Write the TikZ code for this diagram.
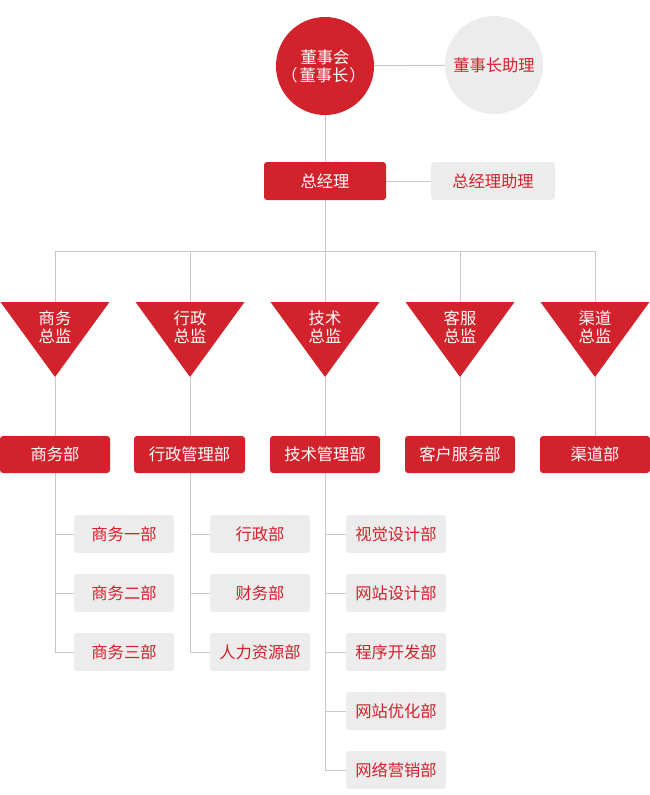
\documentclass[tikz,border=0pt]{standalone}
\usepackage{fontspec}
\setmainfont{Noto Sans CJK SC}
\usetikzlibrary{backgrounds}
\definecolor{cred}{RGB}{210,34,44}
\definecolor{cgray}{RGB}{236,236,236}
\definecolor{cline}{RGB}{200,200,200}
\begin{document}
\begin{tikzpicture}[x=1pt,y=-1pt,
  conn/.style={draw=cline,line width=1pt},
  redbox/.style={fill=cred,text=white,rounded corners=3pt,minimum width=110pt,minimum height=37pt,inner sep=0pt,font=\fontsize{16.3}{18}\selectfont},
  graybox/.style={fill=cgray,text=cred,rounded corners=3pt,minimum width=100pt,minimum height=38pt,inner sep=0pt,font=\fontsize{16.3}{18}\selectfont},
  tritext/.style={text=white,align=center,inner sep=0pt,font=\fontsize{16.3}{18}\selectfont},
  tri/.style={fill=cred}]
\useasboundingbox (0,0) rectangle (650,795);
% top
\node[circle,fill=cred,text=white,minimum size=98pt,inner sep=0pt,align=center,font=\fontsize{16.3}{18}\selectfont] (ceo) at (325,66) {董事会\\\hspace*{-3pt}（\hspace{2pt}董事长\hspace{1pt}）};
\node[circle,fill=cgray,text=cred,minimum size=98pt,inner sep=0pt,font=\fontsize{16.3}{18}\selectfont] (ceoA) at (494,65) {董事长助理};
\node[redbox,minimum width=122pt,minimum height=38pt] (gm) at (325,181) {总经理};
\node[graybox,minimum width=124pt] (gmA) at (493,181) {总经理助理};
\coordinate (bus) at (325,251);
\coordinate (busL) at (55,251);
\coordinate (busR) at (595,251);
% triangles
\foreach \i/\x/\a/\b in {1/55/商务/总监,2/190/行政/总监,3/325/技术/总监,4/460/客服/总监,5/595/渠道/总监}{
  \coordinate (t\i top) at (\x,302);
  \coordinate (t\i apex) at (\x,377);
  \fill[tri] (\x-54.5,302) -- (\x+54.5,302) -- (\x,377) -- cycle;
  \node[tritext] (t\i) at (\x,327.5) {\a\\\b};
}
% departments
\node[redbox] (d1) at (55,454.5) {商务部};
\node[redbox,minimum width=111pt] (d2) at (189.5,454.5) {行政管理部};
\node[redbox] (d3) at (325,454.5) {技术管理部};
\node[redbox] (d4) at (460,454.5) {客户服务部};
\node[redbox] (d5) at (595,454.5) {渠道部};
% sub departments
\node[graybox] (s11) at (124,534) {商务一部};
\node[graybox] (s12) at (124,593) {商务二部};
\node[graybox] (s13) at (124,652) {商务三部};
\node[graybox] (s21) at (260,534) {行政部};
\node[graybox] (s22) at (260,593) {财务部};
\node[graybox] (s23) at (260,652) {人力资源部};
\node[graybox] (s31) at (396,534) {视觉设计部};
\node[graybox] (s32) at (396,593) {网站设计部};
\node[graybox] (s33) at (396,652) {程序开发部};
\node[graybox] (s34) at (396,711) {网站优化部};
\node[graybox] (s35) at (396,770) {网络营销部};
\coordinate (c1) at (55,652);
\coordinate (c2) at (190,652);
\coordinate (c3) at (325,770);
\begin{scope}[on background layer]
\draw[conn] (ceo) -- (ceoA);
\draw[conn] (ceo) -- (gm);
\draw[conn] (gm) -- (gmA);
\draw[conn] (gm.south) -- (bus);
\draw[conn] (busL) -- (busR);
\foreach \i in {1,2,3,4,5}{
  \draw[conn] (t\i top) -- (t\i top |- busL);
  \draw[conn] (t\i apex) -- (d\i.north -| t\i apex);
}
\draw[conn] (d1.south) -- (c1);
\draw[conn] (d2.south -| c2) -- (c2);
\draw[conn] (d3.south) -- (c3);
\foreach \s in {11,12,13}{\draw[conn] (s\s.west) -- (s\s.west -| c1);}
\foreach \s in {21,22,23}{\draw[conn] (s\s.west) -- (s\s.west -| c2);}
\foreach \s in {31,32,33,34,35}{\draw[conn] (s\s.west) -- (s\s.west -| c3);}
\end{scope}
\end{tikzpicture}
\end{document}
